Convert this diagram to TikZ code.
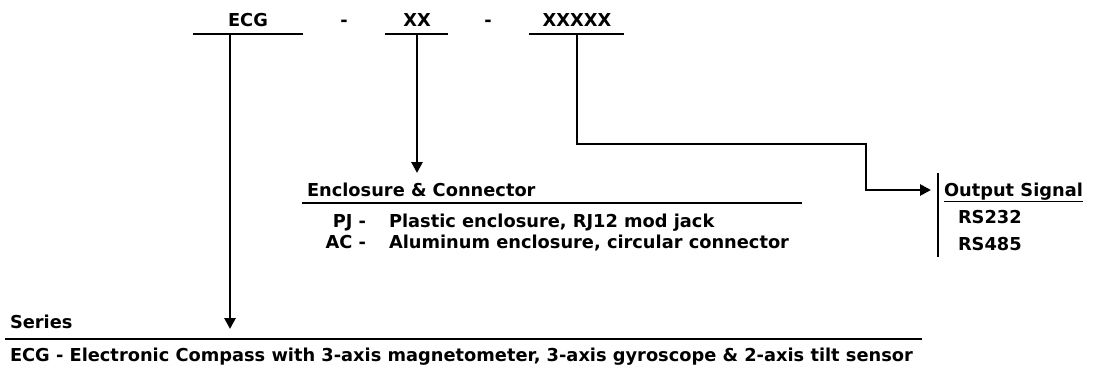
\documentclass[tikz,border=0pt]{standalone}
\usepackage{fontspec}
\setmainfont{DejaVu Sans}
\usetikzlibrary{arrows.meta}
\begin{document}
\begin{tikzpicture}[x=1pt,y=-1pt,
  lbl/.style={inner sep=0pt,outer sep=0pt,font=\fontsize{17.8}{21}\selectfont\bfseries},
  rule/.style={line width=2.7pt},
  conn/.style={line width=2.7pt},
  arr/.style={conn,-{Triangle[length=11pt,width=11pt]}}]
\useasboundingbox (0,0) rectangle (1098,367);
% part code
\node[lbl,anchor=base] (ecg) at (248,26) {ECG};
\node[lbl,anchor=base] (d1) at (344,26) {-};
\node[lbl,anchor=base] (xx) at (417,26) {XX};
\node[lbl,anchor=base] (d2) at (488,26) {-};
\node[lbl,anchor=base] (x5) at (577,26) {XXXXX};
\coordinate (u1a) at (193,34); \coordinate (u1b) at (303,34);
\coordinate (u2a) at (385,34); \coordinate (u2b) at (448,34);
\coordinate (u3a) at (529,34); \coordinate (u3b) at (624,34);
\draw[rule] (u1a) -- (u1b);
\draw[rule] (u2a) -- (u2b);
\draw[rule] (u3a) -- (u3b);
\coordinate (s1) at (230,34);
\coordinate (s2) at (417,34);
\coordinate (s3) at (577,34);
% series
\node[lbl,anchor=base west] (ser) at (10,328) {Series};
\coordinate (serT) at (230,329);
\draw[rule] (5,339) -- (922,339);
\node[lbl,anchor=base west] (serd) at (10,361) {ECG - Electronic Compass with 3-axis magnetometer, 3-axis gyroscope \& 2-axis tilt sensor};
\draw[arr] (s1) -- (serT);
% enclosure
\node[lbl,anchor=base west] (enc) at (307,196) {Enclosure \& Connector};
\coordinate (encT) at (417,173);
\draw[rule] (302,203) -- (802,203);
\node[lbl,anchor=base east] (pj) at (366,227) {PJ -};
\node[lbl,anchor=base west] (pjd) at (389,227) {Plastic enclosure, RJ12 mod jack};
\node[lbl,anchor=base east] (ac) at (366,248) {AC -};
\node[lbl,anchor=base west] (acd) at (389,248) {Aluminum enclosure, circular connector};
\draw[arr] (s2) -- (encT);
% output
\draw[rule] (938,173) -- (938,257);
\node[lbl,anchor=base west] (out) at (944,196) {\underline{Output Signal}};
\node[lbl,anchor=base west] (rs1) at (958,223) {RS232};
\node[lbl,anchor=base west] (rs2) at (958,250) {RS485};
\coordinate (outT) at (931,190);
\draw[arr] (s3) -- (577,144) -- (866,144) -- (866,190) -- (outT);
\end{tikzpicture}
\end{document}
